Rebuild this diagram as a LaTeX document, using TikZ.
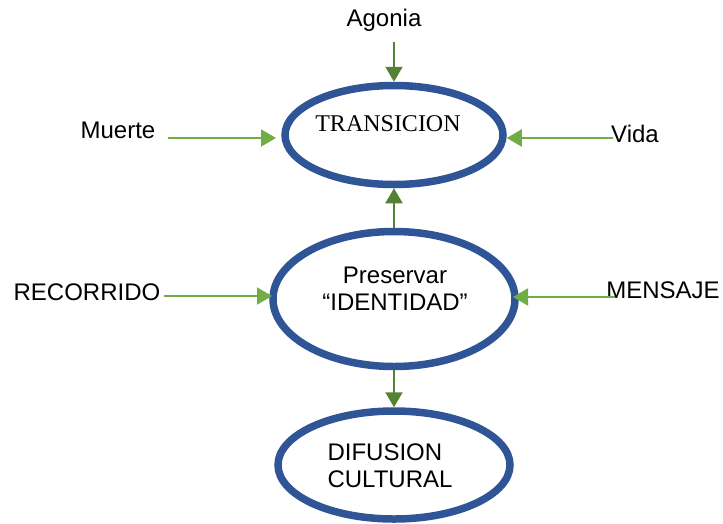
\documentclass[tikz,border=0pt]{standalone}
\usepackage{fontspec}
\setmainfont{Liberation Sans}
\newfontfamily\timesfont{Liberation Serif}
\usetikzlibrary{shapes.geometric,arrows.meta}
\definecolor{ellblue}{RGB}{47,85,151}
\definecolor{lgreen}{RGB}{112,173,71}
\definecolor{dgreen}{RGB}{84,130,53}
\tikzset{
  oval/.style={ellipse, draw=ellblue, line width=7.5pt, inner sep=0pt, align=center, font=\fontsize{24}{27}\selectfont},
  lbl/.style={inner sep=0pt, font=\fontsize{24}{27}\selectfont},
  harrow/.style={draw=lgreen, line width=2pt, -{Triangle[length=15pt,width=17pt]}, fill=lgreen},
  varrow/.style={draw=dgreen, line width=2pt, -{Triangle[length=15pt,width=17pt]}, fill=dgreen}
}
\begin{document}
\begin{tikzpicture}[x=1pt,y=-1pt]
\useasboundingbox (0,0) rectangle (723,523);
\node[oval, minimum width=218pt, minimum height=99pt] (trans) at (394,135) {};
\node[inner sep=0pt, font=\timesfont\fontsize{24}{27}\selectfont] (transt) at (388,124) {TRANSICION};
\node[oval, minimum width=242pt, minimum height=135pt] (pres) at (394,299) {};
\node[lbl, align=center] (prest) at (395,289) {Preservar\\“IDENTIDAD”};
\node[oval, minimum width=232pt, minimum height=108pt] (dif) at (394,465) {};
\node[lbl, align=left] (dift) at (390,466) {DIFUSION\\CULTURAL};

\node[lbl] (agonia) at (384,20) {Agonia};
\node[lbl] (muerte) at (118,130) {Muerte};
\node[lbl] (vida) at (635,134) {Vida};
\node[lbl] (recorrido) at (87,292) {RECORRIDO};
\node[lbl] (mensaje) at (663,290) {MENSAJE};

\coordinate (agS) at (394,42);
\coordinate (muS) at (168,138);
\coordinate (muE) at (276,138);
\coordinate (viS) at (613,138);
\coordinate (reS) at (164,296);
\coordinate (reE) at (272,296);
\coordinate (meS) at (615,297);
\coordinate (meE) at (513,297);

\draw[varrow] (agS) -- (trans.north);
\draw[harrow] (muS) -- (muE);
\draw[harrow] (viS) -- (trans.east |- viS);
\draw[harrow] (reS) -- (reE);
\draw[harrow] (meS) -- (meE);
\draw[varrow] (pres.north) -- (trans.south);
\draw[varrow] (pres.south) -- (dif.north);
\end{tikzpicture}
\end{document}
